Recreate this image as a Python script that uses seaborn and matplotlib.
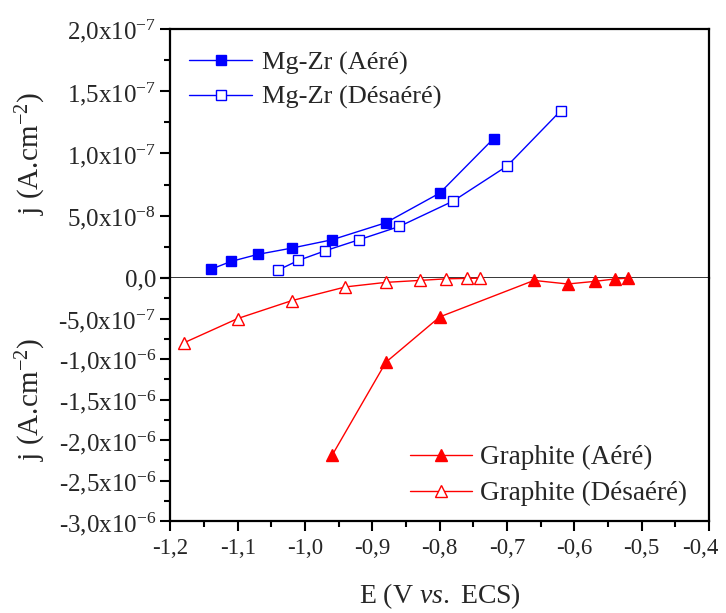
import numpy as np
import pandas as pd
import matplotlib
matplotlib.use('Agg')
import matplotlib.pyplot as plt
import matplotlib.transforms as mtransforms
import seaborn as sns
from matplotlib.ticker import FixedLocator, MultipleLocator

# Data
E_mgzr_aere = [-1.14, -1.11, -1.07, -1.02, -0.96, -0.88, -0.80, -0.72]
j_mgzr_aere = [7.0e-9, 1.33e-8, 1.9e-8, 2.4e-8, 3.07e-8, 4.44e-8, 6.82e-8, 1.12e-7]

E_mgzr_desaere = [-1.04, -1.01, -0.97, -0.92, -0.86, -0.78, -0.70, -0.62]
j_mgzr_desaere = [6.4e-9, 1.41e-8, 2.19e-8, 3.07e-8, 4.14e-8, 6.18e-8, 8.99e-8, 1.345e-7]

E_graph_aere = [-0.96, -0.88, -0.80, -0.66, -0.61, -0.57, -0.54, -0.52]
j_graph_aere = [-2.19e-6, -1.04e-6, -4.8e-7, -3.0e-8, -7.4e-8, -4.2e-8, -1.2e-8, -2e-9]

E_graph_desaere = [-1.18, -1.10, -1.02, -0.94, -0.88, -0.83, -0.79, -0.76, -0.74]
j_graph_desaere = [-8.0e-7, -5.0e-7, -2.8e-7, -1.1e-7, -5.4e-8, -3.0e-8, -1.0e-8, -5e-9, -2e-9]

x_ticks = [-1.2, -1.1, -1.0, -0.9, -0.8, -0.7, -0.6, -0.5, -0.4]
x_labels = ['-1,2', '-1,1', '-1,0', '-0,9', '-0,8', '-0,7', '-0,6', '-0,5', '-0,4']

top_ticks = [0.0, 5e-8, 1e-7, 1.5e-7, 2e-7]
top_labels = ['0,0', '5,0x10$^{-8}$', '1,0x10$^{-7}$', '1,5x10$^{-7}$', '2,0x10$^{-7}$']

bot_ticks = [0.0, -5e-7, -1e-6, -1.5e-6, -2e-6, -2.5e-6, -3e-6]
bot_labels = ['', '-5,0x10$^{-7}$', '-1,0x10$^{-6}$', '-1,5x10$^{-6}$',
              '-2,0x10$^{-6}$', '-2,5x10$^{-6}$', '-3,0x10$^{-6}$']

sns.set_style('ticks')
plt.rcParams['font.family'] = ['Liberation Serif', 'DejaVu Serif']
plt.rcParams['mathtext.fontset'] = 'custom'
plt.rcParams['mathtext.rm'] = 'Liberation Serif'
plt.rcParams['mathtext.it'] = 'Liberation Serif:italic'
plt.rcParams['mathtext.bf'] = 'Liberation Serif:bold'

blue = '#0000FF'
red = '#FF0000'

fig = plt.figure(figsize=(7.26, 6.13), dpi=100)
ax_top = fig.add_axes([0.2348, 0.5465, 0.7418, 0.4062])
ax_bot = fig.add_axes([0.2348, 0.150, 0.7418, 0.3965])

# Mg-Zr curves (top half)
sns.lineplot(x=E_mgzr_aere, y=j_mgzr_aere, ax=ax_top, color=blue, lw=1.0,
             marker='s', markersize=6.5, markerfacecolor=blue, markeredgecolor=blue,
             markeredgewidth=1.0, label='Mg-Zr (Aéré)', errorbar=None, sort=False)
sns.lineplot(x=E_mgzr_desaere, y=j_mgzr_desaere, ax=ax_top, color=blue, lw=1.0,
             marker='s', markersize=6.5, markerfacecolor='white', markeredgecolor=blue,
             markeredgewidth=1.0, label='Mg-Zr (Désaéré)', errorbar=None, sort=False)

# Graphite curves (bottom half)
sns.lineplot(x=E_graph_aere, y=j_graph_aere, ax=ax_bot, color=red, lw=1.0,
             marker='^', markersize=8.5, markerfacecolor=red, markeredgecolor=red,
             markeredgewidth=1.0, label='Graphite (Aéré)', errorbar=None, sort=False,
             clip_on=False)
sns.lineplot(x=E_graph_desaere, y=j_graph_desaere, ax=ax_bot, color=red, lw=1.0,
             marker='^', markersize=8.5, markerfacecolor='white', markeredgecolor=red,
             markeredgewidth=1.0, label='Graphite (Désaéré)', errorbar=None, sort=False,
             clip_on=False)

for ax in (ax_top, ax_bot):
    ax.set_xlim(-1.2, -0.4)
    for s in ax.spines.values():
        s.set_linewidth(1.6)
        s.set_color('black')
    ax.tick_params(axis='y', which='major', direction='out', length=7, width=1.5,
                   labelsize=18, color='black')
    ax.tick_params(axis='x', which='major', direction='out', length=7, width=1.5,
                   labelsize=16.5, color='black')
    ax.tick_params(axis='both', which='minor', direction='out', length=4, width=1.5,
                   color='black')
    ax.tick_params(top=False, right=False, which='both')

# top axis
ax_top.set_ylim(0, 2e-7)
ax_top.yaxis.set_major_locator(FixedLocator(top_ticks))
ax_top.set_yticklabels(top_labels)
ax_top.yaxis.set_minor_locator(MultipleLocator(2.5e-8))
ax_top.tick_params(axis='x', which='both', bottom=False, labelbottom=False)
ax_top.spines['bottom'].set_linewidth(1.1)
ax_top.set_xlabel('')
ax_top.set_ylabel('j (A.cm$^{-2}$)', fontsize=21)
ax_top.yaxis.set_label_coords(-0.228, 0.5)

# bottom axis
ax_bot.set_ylim(-3e-6, 0)
ax_bot.yaxis.set_major_locator(FixedLocator(bot_ticks))
ax_bot.set_yticklabels(bot_labels)
ax_bot.yaxis.set_minor_locator(MultipleLocator(2.5e-7))
ax_bot.spines['top'].set_visible(False)
ax_bot.xaxis.set_major_locator(FixedLocator(x_ticks))
ax_bot.set_xticklabels(x_labels)
ax_bot.xaxis.set_minor_locator(MultipleLocator(0.05))
ax_bot.tick_params(axis='x', which='major', pad=5)
ax_bot.set_xlabel('E (V $\\mathit{vs.}$ ECS)', fontsize=20, labelpad=16)
ax_bot.set_ylabel('j (A.cm$^{-2}$)', fontsize=21)
ax_bot.yaxis.set_label_coords(-0.228, 0.5)

# nudge the last x label left so it stays inside the canvas, as in the source
last = ax_bot.get_xticklabels()[-1]
last.set_transform(last.get_transform() +
                   mtransforms.ScaledTranslation(-6 / 72, 0, fig.dpi_scale_trans))

ax_top.legend(loc='upper left', bbox_to_anchor=(0.005, 0.975), frameon=False,
              fontsize=19, handlelength=2.4, handletextpad=0.35, labelspacing=0.4,
              borderaxespad=0.2)
ax_bot.legend(loc='lower right', bbox_to_anchor=(0.99, -0.005), frameon=False,
              fontsize=19.5, handlelength=2.3, handletextpad=0.3, labelspacing=0.4,
              borderaxespad=0.2)

fig.savefig('out.png', dpi=100)
